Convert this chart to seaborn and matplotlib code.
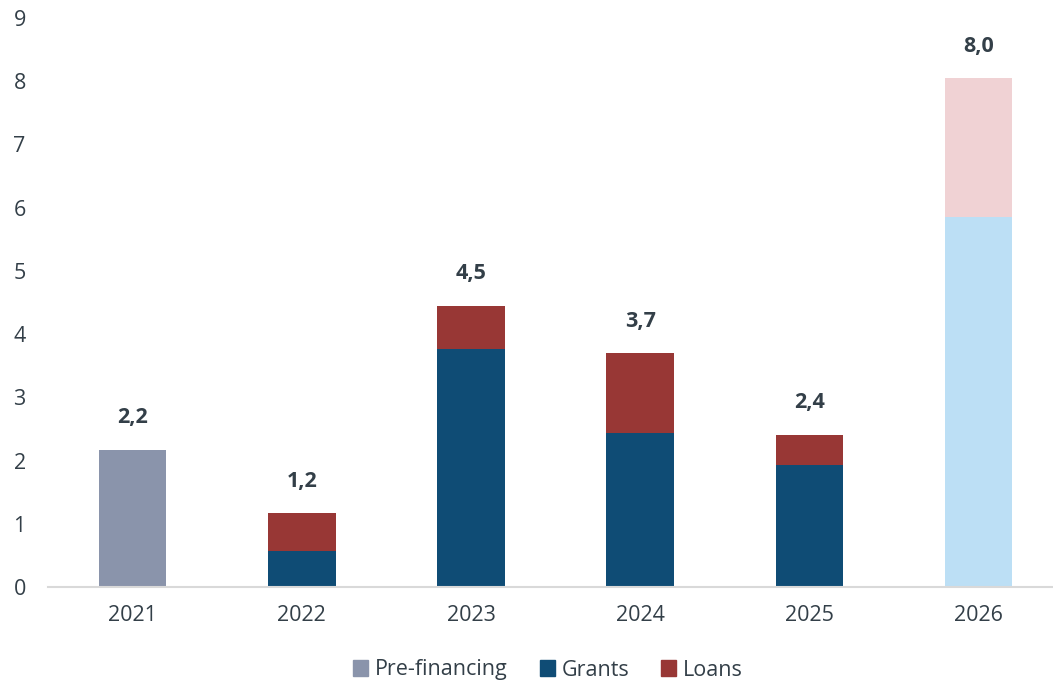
import matplotlib
matplotlib.use('Agg')
import matplotlib.pyplot as plt
from matplotlib.patches import Patch
import pandas as pd
import seaborn as sns

years = ['2021', '2022', '2023', '2024', '2025', '2026']
pre_financing = [2.17, 0, 0, 0, 0, 0]
grants = [0, 0.57, 3.77, 2.44, 1.93, 5.85]
loans = [0, 0.60, 0.68, 1.26, 0.48, 2.20]
total_labels = ['2,2', '1,2', '4,5', '3,7', '2,4', '8,0']

c_pre = '#8a94ab'
c_grants = '#0f4c75'
c_loans = '#983735'
c_grants_fc = '#bcdff5'
c_loans_fc = '#f0d2d4'
text_c = '#333f48'

totals = [p + g + l for p, g, l in zip(pre_financing, grants, loans)]
df = pd.DataFrame({'year': years, 'total': totals, 'grants': grants})

sns.set_theme(style='white')
plt.rcParams['font.family'] = ['Open Sans', 'DejaVu Sans']

fig = plt.figure(figsize=(10.53, 6.84), dpi=100)
ax = fig.add_axes([48 / 1053, 97 / 684, 1 - 48 / 1053, 569 / 684])

top_colors = [c_pre, c_loans, c_loans, c_loans, c_loans, c_loans_fc]
low_colors = [c_pre, c_grants, c_grants, c_grants, c_grants, c_grants_fc]

# stacked look: full total first, grants drawn over it
sns.barplot(data=df, x='year', y='total', hue='year', palette=top_colors,
            width=0.4, legend=False, ax=ax, saturation=1, linewidth=0)
sns.barplot(data=df, x='year', y='grants', hue='year', palette=low_colors,
            width=0.4, legend=False, ax=ax, saturation=1, linewidth=0)

for i, (t, lab) in enumerate(zip(totals, total_labels)):
    ax.annotate(lab, (i, t), xytext=(0, 23), textcoords='offset points',
                ha='center', va='center', fontsize=15.5, fontweight='bold',
                color=text_c)

ax.set_ylim(0, 9)
ax.set_xlim(-0.5, 5.44)
ax.set_yticks(range(0, 10))
ax.set(xlabel=None, ylabel=None)
sns.despine(ax=ax, left=True, right=True, top=True)
ax.spines['bottom'].set_color('#d9d9d9')
ax.spines['bottom'].set_linewidth(1.5)
ax.tick_params(axis='both', length=0, labelsize=15.5, colors=text_c)
ax.tick_params(axis='y', pad=16)
ax.tick_params(axis='x', pad=13)

handles = [Patch(color=c_pre, label='Pre-financing'),
           Patch(color=c_grants, label='Grants'),
           Patch(color=c_loans, label='Loans')]
fig.legend(handles=handles, loc='center', bbox_to_anchor=(548 / 1053, 1 - 670 / 684),
           ncol=3, frameon=False, fontsize=15.5, handlelength=0.7,
           handleheight=0.7, handletextpad=0.3, columnspacing=1.5,
           labelcolor=text_c)

fig.savefig('out.png', dpi=100)
